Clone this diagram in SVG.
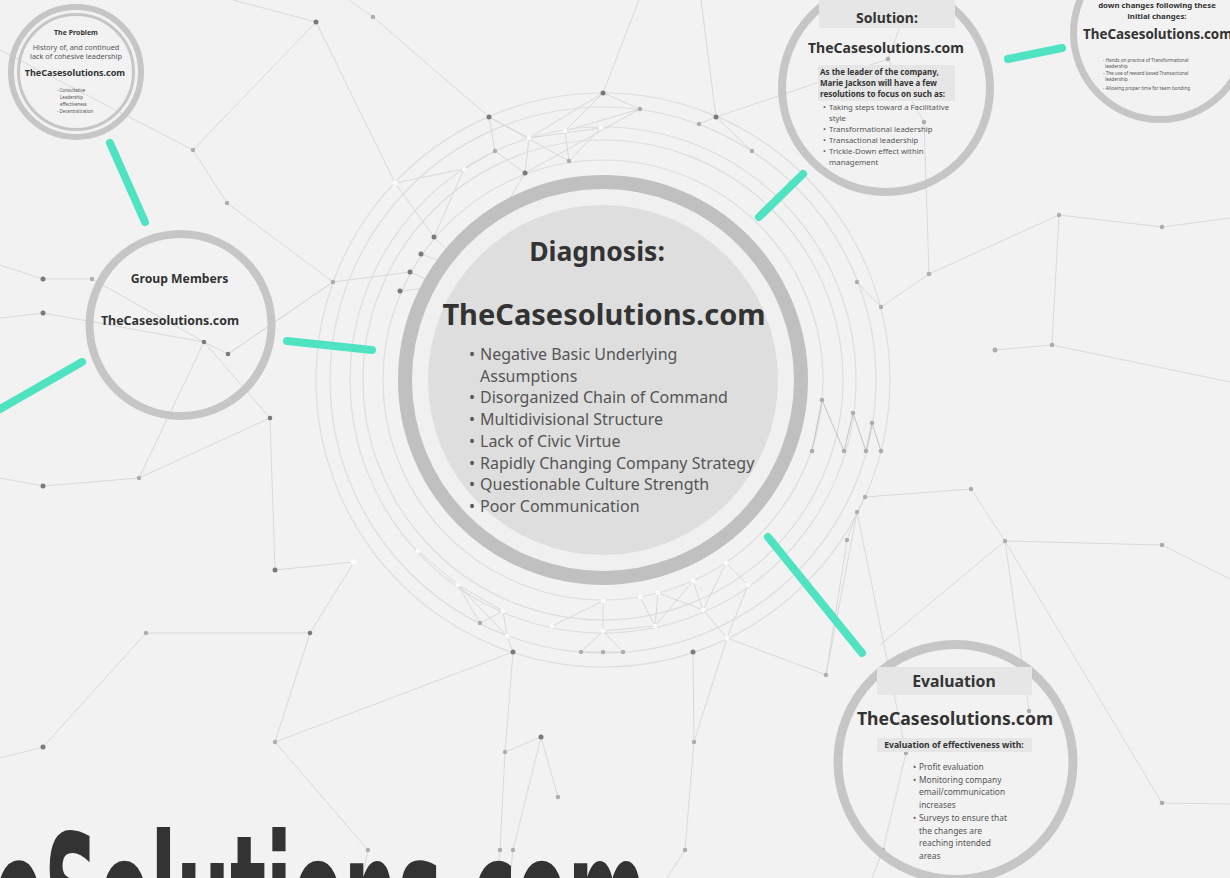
<svg xmlns="http://www.w3.org/2000/svg" width="1230" height="878" viewBox="0 0 1230 878">
  <style>
    .ln{stroke:#d9d9d9;stroke-width:1;fill:none}
    .arc{stroke:#dddddd;stroke-width:1.2;fill:none}
    .nd{fill:#7a7a7a}
    .nl{fill:#adadad}
    .nw{fill:#fbfbfb}
    .teal{stroke:#50e3c2;stroke-width:8;stroke-linecap:round;fill:none}
    .ring{fill:none;stroke:#c6c6c6}
    .t{font-family:"Noto Sans","Open Sans",sans-serif;fill:#333}
    .b{font-weight:bold}
    .g{fill:#555}
  </style>
  <rect width="1230" height="878" fill="#f2f2f2"/>

  <!-- concentric guide arcs around the central node -->
  <g id="orbits">
    <circle class="arc" cx="603" cy="380" r="220"/>
    <circle class="arc" cx="603" cy="380" r="240"/>
    <circle class="arc" cx="603" cy="380" r="253"/>
    <circle class="arc" cx="603" cy="380" r="273"/>
    <circle class="arc" cx="603" cy="380" r="287"/>
  </g>

  <!-- background network -->
  <g id="network">
    <path class="ln" d="M0 50L193 150L316 22M193 150L227 203L333 282M233 0L316 22L395 183M349 0L373 17L489 117M333 282L410 272M333 282L228 354M639 0L603 93M701 0L716 117L752 151M699 124L716 117L888 59"/>
    <path class="ln" d="M489 117L495 151M489 117L529 138M489 117L569 161M603 93L640 109M603 93L529 138M603 93L565 131M640 109L565 131M640 109L525 173M601 128L529 138M565 131L569 161M529 138L525 173M495 151L525 173M495 151L464 169M395 183L464 169L434 237M395 183L434 237L467 271M421 254L467 271M410 272L441 286M400 291L441 286M525 173L467 271M601 128L569 161"/>
    <path class="ln" d="M0 265L43 279L92 279L204 342M0 318L43 313L204 342L228 354L333 282M204 342L270 418M204 342L139 478M0 478L43 486L139 478L270 418L275 570L354 562L310 633L146 633L43 747L0 758M310 633L275 742L513 652M275 742L368 850L362 878"/>
    <path class="ln" d="M513 652L505 752L500 850L497 878M505 752L541 737L558 797M541 737L513 850L510 878M693 652L694 742L685 850L667 878M727 638L694 742M727 638L826 675L847 540"/>
    <path class="ln" d="M418 551L458 585L480 623M458 585L507 636M458 585L503 611L480 623M503 611L507 636L513 652M552 626L603 601L603 631L581 652M603 631L623 652M603 631L655 626M640 597L655 626M658 593L655 626M658 593L703 610M693 581L655 626M693 581L703 610M726 563L703 610M726 563L748 585L727 638M703 610L727 638M581 652L603 652L623 652"/>
    <path class="ln" d="M924 122L929 274M888 59L924 122M910 0L888 59M929 274L1059 215L1162 227L1230 218M929 274L881 307L857 282M1059 215L1052 345L995 350M1052 345L1230 382M865 497L971 489L1005 541L1162 545L1230 579M1005 541L1162 803L1230 804M1005 541L880 645M1005 541L1029 711M857 512L826 675M857 512L906 753L883 850L872 878M865 497L857 512L847 540"/>
    <polyline class="ln" points="812,451 822,400 844,451 853,413 866,451 872,423 881,451" style="stroke:#c4c4c4"/>

    <g class="nd">
      <circle cx="316" cy="22" r="2.5"/><circle cx="489" cy="117" r="2.5"/><circle cx="603" cy="93" r="2.5"/>
      <circle cx="525" cy="173" r="2.5"/><circle cx="434" cy="237" r="2.5"/><circle cx="421" cy="254" r="2.5"/>
      <circle cx="410" cy="272" r="2.5"/><circle cx="400" cy="291" r="2.5"/><circle cx="716" cy="117" r="2.5"/>
      <circle cx="43" cy="279" r="2.5"/><circle cx="43" cy="313" r="2.5"/><circle cx="43" cy="486" r="2.5"/>
      <circle cx="43" cy="747" r="2.5"/><circle cx="275" cy="570" r="2.5"/><circle cx="204" cy="342" r="2.3"/>
      <circle cx="228" cy="354" r="2.3"/><circle cx="270" cy="418" r="2.3"/><circle cx="310" cy="633" r="2.3"/>
      <circle cx="513" cy="652" r="2.5"/><circle cx="693" cy="652" r="2.5"/><circle cx="541" cy="737" r="2.5"/>
    </g>
    <g class="nl">
      <circle cx="373" cy="17" r="2.2"/><circle cx="193" cy="150" r="2.2"/><circle cx="227" cy="203" r="2.2"/>
      <circle cx="333" cy="282" r="2.2"/><circle cx="640" cy="109" r="2.2"/><circle cx="495" cy="151" r="2.2"/>
      <circle cx="569" cy="161" r="2.2"/><circle cx="699" cy="124" r="2.2"/><circle cx="752" cy="151" r="2.2"/>
      <circle cx="92" cy="279" r="2.2"/><circle cx="139" cy="478" r="2.2"/><circle cx="146" cy="633" r="2.2"/>
      <circle cx="275" cy="742" r="2.2"/><circle cx="368" cy="850" r="2.2"/><circle cx="505" cy="752" r="2.2"/>
      <circle cx="558" cy="797" r="2.2"/><circle cx="500" cy="850" r="2.2"/><circle cx="513" cy="850" r="2.2"/>
      <circle cx="694" cy="742" r="2.2"/><circle cx="685" cy="850" r="2.2"/><circle cx="826" cy="675" r="2.2"/>
      <circle cx="581" cy="652" r="2.2"/><circle cx="603" cy="652" r="2.2"/><circle cx="623" cy="652" r="2.2"/>
      <circle cx="480" cy="623" r="2.2"/><circle cx="888" cy="59" r="2.2"/><circle cx="924" cy="122" r="2.2"/>
      <circle cx="929" cy="274" r="2.3"/><circle cx="881" cy="307" r="2.2"/><circle cx="857" cy="282" r="2.2"/>
      <circle cx="1059" cy="215" r="2.2"/><circle cx="1162" cy="227" r="2.3"/><circle cx="1052" cy="345" r="2.3"/>
      <circle cx="995" cy="350" r="2.5"/><circle cx="865" cy="497" r="2.2"/><circle cx="857" cy="512" r="2.2"/>
      <circle cx="847" cy="540" r="2.2"/><circle cx="971" cy="489" r="2.2"/><circle cx="1005" cy="541" r="2.2"/>
      <circle cx="1162" cy="545" r="2.3"/><circle cx="1162" cy="803" r="2.3"/><circle cx="906" cy="753" r="2.2"/>
      <circle cx="883" cy="850" r="2.2"/><circle cx="1029" cy="711" r="2.2"/>
      <circle cx="812" cy="451" r="2.3"/><circle cx="822" cy="400" r="2.3"/><circle cx="844" cy="451" r="2.3"/>
      <circle cx="853" cy="413" r="2.3"/><circle cx="866" cy="451" r="2.3"/><circle cx="872" cy="423" r="2.3"/>
      <circle cx="881" cy="451" r="2.3"/>
    </g>
    <g class="nw">
      <circle cx="565" cy="131" r="2.3"/><circle cx="601" cy="128" r="2.3"/><circle cx="529" cy="138" r="2.3"/>
      <circle cx="464" cy="169" r="2.3"/><circle cx="395" cy="183" r="2.5"/><circle cx="467" cy="271" r="2.3"/>
      <circle cx="441" cy="286" r="2.3"/><circle cx="354" cy="562" r="3"/><circle cx="418" cy="551" r="2.3"/>
      <circle cx="458" cy="585" r="2.3"/><circle cx="507" cy="636" r="2.3"/><circle cx="503" cy="611" r="2.3"/>
      <circle cx="552" cy="626" r="2.3"/><circle cx="603" cy="601" r="2.3"/><circle cx="603" cy="631" r="2.3"/>
      <circle cx="640" cy="597" r="2.3"/><circle cx="658" cy="593" r="2.3"/><circle cx="655" cy="626" r="2.3"/>
      <circle cx="693" cy="581" r="2.3"/><circle cx="703" cy="610" r="2.3"/><circle cx="726" cy="563" r="2.3"/>
      <circle cx="748" cy="585" r="2.3"/><circle cx="727" cy="638" r="2.3"/>
    </g>
  </g>

  <!-- connectors between topic circles -->
  <g id="connectors">
    <line class="teal" x1="110" y1="143" x2="145" y2="222"/>
    <line class="teal" x1="287" y1="341" x2="372" y2="350"/>
    <line class="teal" x1="0" y1="409" x2="82" y2="362"/>
    <line class="teal" x1="759" y1="217" x2="803" y2="174"/>
    <line class="teal" x1="1008" y1="59" x2="1062" y2="48"/>
    <line class="teal" x1="768" y1="537" x2="862" y2="653"/>
  </g>

  <g id="problem">
    <circle class="ring" cx="76" cy="72" r="65" stroke-width="6"/>
    <circle class="ring" cx="76" cy="72" r="57.5" stroke-width="3"/>
    <text class="t b" x="76" y="35" font-size="7" text-anchor="middle">The Problem</text>
    <text class="t g" x="76" y="50" font-size="7.3" text-anchor="middle">History of, and continued</text>
    <text class="t g" x="76" y="58.7" font-size="7.3" text-anchor="middle">lack of cohesive leadership</text>
    <text class="t b" x="75" y="75.5" font-size="9" text-anchor="middle">TheCasesolutions.com</text>
    <g class="t g" font-size="4.4">
      <text x="57" y="91.7">- Consultative</text>
      <text x="60" y="99">Leadership</text>
      <text x="60" y="106">effectiveness</text>
      <text x="57" y="113.3">- Decentralization</text>
    </g>
  </g>

  <g id="group-members">
    <circle class="ring" cx="180.5" cy="325" r="91" stroke-width="8"/>
    <text class="t b" x="179.5" y="283.3" font-size="12.2" text-anchor="middle">Group Members</text>
    <text class="t b" x="170" y="324.5" font-size="12.4" text-anchor="middle">TheCasesolutions.com</text>
  </g>

  <g id="diagnosis">
    <circle cx="603" cy="380" r="198" fill="#f0f0f0" stroke="#c0c0c0" stroke-width="14"/>
    <circle cx="603" cy="380" r="175" fill="#dedede"/>
    <text class="t b" x="597" y="261" font-size="26.5" text-anchor="middle">Diagnosis:</text>
    <text class="t b" x="604" y="325" font-size="29" text-anchor="middle">TheCasesolutions.com</text>
    <g class="t g" font-size="16">
      <text x="469" y="360">•<tspan x="480">Negative Basic Underlying</tspan></text>
      <text x="480" y="381.7">Assumptions</text>
      <text x="469" y="403.4">•<tspan x="480">Disorganized Chain of Command</tspan></text>
      <text x="469" y="425.1">•<tspan x="480">Multidivisional Structure</tspan></text>
      <text x="469" y="446.8">•<tspan x="480">Lack of Civic Virtue</tspan></text>
      <text x="469" y="468.5">•<tspan x="480">Rapidly Changing Company Strategy</tspan></text>
      <text x="469" y="490.2">•<tspan x="480">Questionable Culture Strength</tspan></text>
      <text x="469" y="511.9">•<tspan x="480">Poor Communication</tspan></text>
    </g>
  </g>

  <g id="solution">
    <circle class="ring" cx="886" cy="88" r="104" stroke-width="8"/>
    <rect x="819" y="0" width="136" height="28" fill="#e6e6e6"/>
    <text class="t b" x="887" y="22.5" font-size="14" text-anchor="middle">Solution:</text>
    <text class="t b" x="886" y="53.3" font-size="14" text-anchor="middle">TheCasesolutions.com</text>
    <rect x="818" y="65" width="137" height="36" fill="#e6e6e6"/>
    <g class="t b" font-size="8">
      <text x="820" y="74.5">As the leader of the company,</text>
      <text x="820" y="85.7">Marie Jackson will have a few</text>
      <text x="820" y="96.7">resolutions to focus on such as:</text>
    </g>
    <g class="t g" font-size="7.8">
      <text x="823" y="110">•<tspan x="829">Taking steps toward a Facilitative</tspan></text>
      <text x="829" y="120.7">style</text>
      <text x="823" y="131.7">•<tspan x="829">Transformational leadership</tspan></text>
      <text x="823" y="142.7">•<tspan x="829">Transactional leadership</tspan></text>
      <text x="823" y="154">•<tspan x="829">Trickle-Down effect within</tspan></text>
      <text x="829" y="165">management</text>
    </g>
  </g>

  <g id="changes">
    <circle class="ring" cx="1160" cy="33" r="86.5" stroke-width="7"/>
    <text class="t b" x="1157" y="8.3" font-size="7.8" text-anchor="middle">down changes following these</text>
    <text class="t b" x="1157" y="19" font-size="7.8" text-anchor="middle">initial changes:</text>
    <text class="t b" x="1083" y="38.5" font-size="13.4">TheCasesolutions.com</text>
    <g class="t g" font-size="4.6">
      <text x="1103" y="62">- Hands on practice of Transformational</text>
      <text x="1105" y="68">leadership</text>
      <text x="1103" y="75">- The use of reward based Transactional</text>
      <text x="1105" y="81">leadership</text>
      <text x="1103" y="90">- Allowing proper time for team bonding</text>
    </g>
  </g>

  <g id="evaluation">
    <circle class="ring" cx="955.5" cy="762" r="117.5" stroke-width="9"/>
    <rect x="877" y="667" width="155" height="28" fill="#e6e6e6"/>
    <text class="t b" x="954" y="686.7" font-size="15.8" text-anchor="middle">Evaluation</text>
    <text class="t b" x="955" y="725" font-size="17.6" text-anchor="middle">TheCasesolutions.com</text>
    <rect x="877" y="738" width="155" height="14" fill="#e6e6e6"/>
    <text class="t b" x="954" y="747.5" font-size="8.6" text-anchor="middle">Evaluation of effectiveness with:</text>
    <g class="t g" font-size="8.4">
      <text x="913" y="770">•<tspan x="919">Profit evaluation</tspan></text>
      <text x="913" y="782.7">•<tspan x="919">Monitoring company</tspan></text>
      <text x="919" y="795.4">email/communication</text>
      <text x="919" y="808.1">increases</text>
      <text x="913" y="820.8">•<tspan x="919">Surveys to ensure that</tspan></text>
      <text x="919" y="833.5">the changes are</text>
      <text x="919" y="846.2">reaching intended</text>
      <text x="919" y="858.9">areas</text>
    </g>
  </g>

  <!-- large caption running off the bottom edge, squeezed horizontally -->
  <text transform="translate(-7 956) scale(0.444 1)" font-family="'DejaVu Sans',sans-serif" font-weight="bold" font-size="170" fill="#333">eSolutions.com</text>
</svg>
